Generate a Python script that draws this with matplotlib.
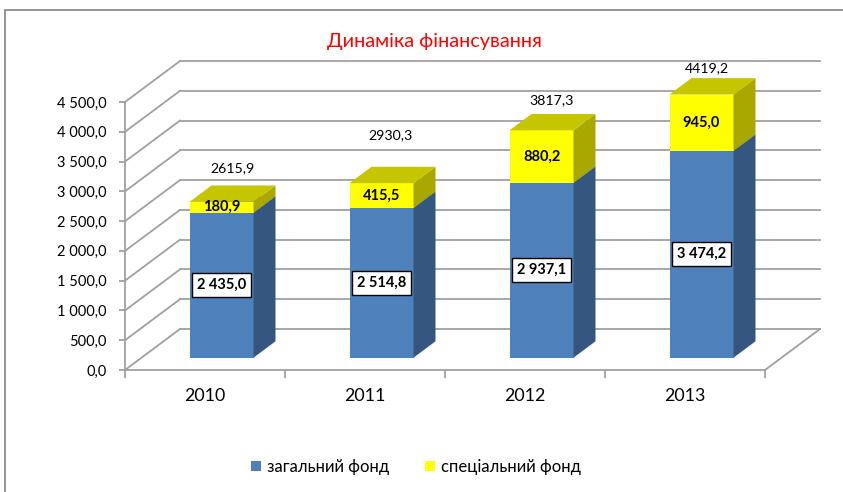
import matplotlib
matplotlib.use("Agg")
import matplotlib.pyplot as plt
from matplotlib.patches import Polygon, Patch, Rectangle
from matplotlib.lines import Line2D

plt.rcParams['font.family'] = ['Lato', 'Noto Sans', 'DejaVu Sans']

# ---------------- data ----------------
years = ["2010", "2011", "2012", "2013"]
general_fund = [2435.0, 2514.8, 2937.1, 3474.2]
special_fund = [180.9, 415.5, 880.2, 945.0]
total_labels = ["2615,9", "2930,3", "3817,3", "4419,2"]
series_names = ["загальний фонд", "спеціальний фонд"]
title = "Динаміка фінансування"
y_ticks = [0, 500, 1000, 1500, 2000, 2500, 3000, 3500, 4000, 4500]

# ---------------- layout ----------------
W, H = 843, 492
fig = plt.figure(figsize=(W / 100, H / 100), dpi=100)
# front plane of the 3D box (pixels)
x0, x1 = 125, 765
y0, y1 = 370, 102
ax = fig.add_axes([x0 / W, 1 - y0 / H, (x1 - x0) / W, (y0 - y1) / H])
ax.set_xlim(-0.5, 3.5)
ax.set_ylim(0, 4500)
ax.patch.set_alpha(0)

px_per_cat = (x1 - x0) / 4
px_per_val = (y0 - y1) / 4500
DX = 55 / px_per_cat        # depth offset in category units
DY = 41 / px_per_val        # depth offset in value units


def P(x, v, d):
    return (x + d * DX, v + d * DY)


grid_c = '#a0a0a0'
# back wall gridlines and side wall diagonals
for v in y_ticks:
    ax.add_line(Line2D(*zip(P(-0.5, v, 1), P(3.5, v, 1)), color=grid_c, lw=1.3, clip_on=False, zorder=1))
    ax.add_line(Line2D(*zip(P(-0.5, v, 0), P(-0.5, v, 1)), color=grid_c, lw=1.3, clip_on=False, zorder=1))
# floor right edge
ax.add_line(Line2D(*zip(P(3.5, 0, 0), P(3.5, 0, 1)), color=grid_c, lw=1.3, clip_on=False, zorder=1))

# bars
bw = 0.4
d0, d1 = 0.3, 0.7
blue_front, blue_side, blue_top = '#4F81BD', '#34567F', '#3E6699'
yel_front, yel_side, yel_top = '#FFFF00', '#A8A800', '#C6C600'


def box(xc, v0, v1, front, side, top, z):
    xl, xr = xc - bw / 2, xc + bw / 2
    ax.add_patch(Polygon([P(xl, v0, d0), P(xr, v0, d0), P(xr, v1, d0), P(xl, v1, d0)],
                         closed=True, fc=front, ec='none', clip_on=False, zorder=z))
    ax.add_patch(Polygon([P(xr, v0, d0), P(xr, v0, d1), P(xr, v1, d1), P(xr, v1, d0)],
                         closed=True, fc=side, ec='none', clip_on=False, zorder=z))
    ax.add_patch(Polygon([P(xl, v1, d0), P(xr, v1, d0), P(xr, v1, d1), P(xl, v1, d1)],
                         closed=True, fc=top, ec='none', clip_on=False, zorder=z))


def fmt(v):
    return f"{v:,.1f}".replace(",", " ").replace(".", ",")


# placement of the total labels relative to bar top (pixels)
label_dy_px = [26, 40, 22, 18]
label_dx_px = [0, -2, -1, -6]
for i in range(len(years)):
    g, s = general_fund[i], special_fund[i]
    box(i, 0, g, blue_front, blue_side, blue_top, 3)
    box(i, g, g + s, yel_front, yel_side, yel_top, 3)
    cx, cy = P(i, g / 2, d0)
    ax.text(cx, cy, fmt(g), ha='center', va='center', fontsize=10.5, fontweight='bold',
            zorder=6, clip_on=False,
            bbox=dict(boxstyle='square,pad=0.35', fc='white', ec='black', lw=1))
    cx, cy = P(i, g + s / 2, d0)
    ax.text(cx, cy, fmt(s), ha='center', va='center', fontsize=10.5, fontweight='bold',
            zorder=6, clip_on=False)
    tx, ty = P(i, g + s, 0.5)
    ax.text(tx + label_dx_px[i] / px_per_cat, ty + label_dy_px[i] / px_per_val, total_labels[i],
            ha='center', va='center', fontsize=10.2, zorder=6, clip_on=False)

# axes styling
for sp in ['top', 'right']:
    ax.spines[sp].set_visible(False)
for sp in ['left', 'bottom']:
    ax.spines[sp].set_color(grid_c)
    ax.spines[sp].set_linewidth(1.3)
    ax.spines[sp].set_zorder(2)
ax.set_yticks(y_ticks)
ax.set_yticklabels([fmt(v) for v in y_ticks])
ax.tick_params(axis='y', length=4, width=1.3, color=grid_c, labelsize=10.5, pad=9)
ax.set_xticks([-0.5, 0.5, 1.5, 2.5, 3.5])
ax.set_xticklabels([])
ax.set_xticks(range(len(years)), minor=True)
ax.set_xticklabels(years, minor=True)
ax.tick_params(axis='x', which='major', length=6, width=1.3, color=grid_c)
ax.tick_params(axis='x', which='minor', length=0, labelsize=12.8, pad=13)

# title
fig.text(434 / W, 1 - 42 / H, title, ha='center', va='center', color='#FF0000', fontsize=14.3)

# legend
handles = [Patch(fc=blue_front, ec='none'), Patch(fc=yel_front, ec='none')]
fig.legend(handles, series_names, loc='center', bbox_to_anchor=(416 / W, 1 - 467 / H),
           ncol=2, frameon=False, fontsize=12, handlelength=0.6, handleheight=0.6,
           handletextpad=0.35, columnspacing=2.2)

# outer border
fig.add_artist(Rectangle((4.5 / W, -0.1), 1.2, 1 - 9.5 / H + 0.1, transform=fig.transFigure,
                         fill=False, ec='#8c8c8c', lw=1.3))

fig.savefig("out.png", dpi=100)
